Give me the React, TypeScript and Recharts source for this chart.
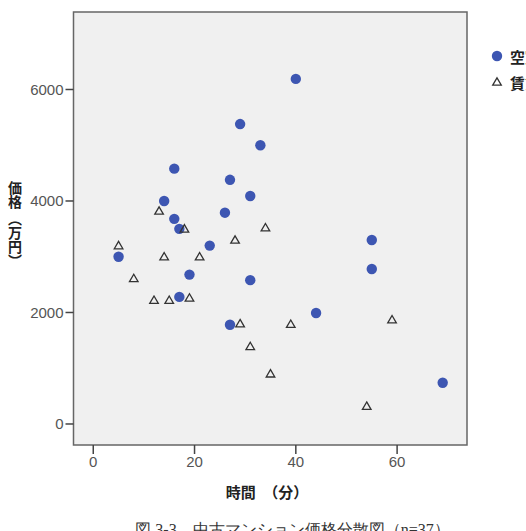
import { ScatterChart, Scatter, XAxis, YAxis, ReferenceArea } from "recharts";

// 空室 (blue circles)
const timeVacant = [5, 14, 16, 16, 17, 19, 17, 23, 26, 27, 29, 31, 33, 40, 31, 27, 44, 55, 55, 69];
const priceVacant = [3000, 4000, 4580, 3680, 3500, 2680, 2280, 3200, 3790, 4380, 5380, 4090, 5000, 6190, 2580, 1780, 1990, 3300, 2780, 740];

// 賃貸 (triangles)
const timeRented = [13, 18, 34, 28, 5, 14, 21, 8, 12, 15, 19, 29, 39, 59, 31, 35, 54];
const priceRented = [3820, 3500, 3520, 3300, 3200, 3000, 3000, 2610, 2220, 2220, 2260, 1800, 1790, 1870, 1390, 900, 320];

const xTicks = [0, 20, 40, 60];
const yTicks = [0, 2000, 4000, 6000];

const vacant = timeVacant.map((t, i) => ({ time: t, price: priceVacant[i] }));
const rented = timeRented.map((t, i) => ({ time: t, price: priceRented[i] }));

const X_MIN = -3.9;
const X_MAX = 73.8;
const Y_MIN = -377;
const Y_MAX = 7390;

const BLUE = "#3d56b2";
const CJK = "'Noto Sans CJK JP', sans-serif";

const Dot = (p: any) => <circle cx={p.cx} cy={p.cy} r={5.2} fill={BLUE} />;

const Tri = (p: any) => (
  <polygon
    points={`${p.cx},${p.cy - 4.2} ${p.cx + 4.3},${p.cy + 3.2} ${p.cx - 4.3},${p.cy + 3.2}`}
    fill="none"
    stroke="#333"
    strokeWidth={1.3}
  />
);

const LegendBox = () => (
  <div
    style={{
      position: "absolute",
      left: 490,
      top: 43,
      width: 80,
      fontFamily: CJK,
      fontWeight: "bold",
      fontSize: 15,
      color: "#222",
    }}
  >
    <div style={{ display: "flex", alignItems: "center", height: 26, whiteSpace: "nowrap" }}>
      <svg width={14} height={14} style={{ marginRight: 6 }}>
        <circle cx={7} cy={7} r={5.2} fill={BLUE} />
      </svg>
      空室
    </div>
    <div style={{ display: "flex", alignItems: "center", height: 26, whiteSpace: "nowrap" }}>
      <svg width={14} height={14} style={{ marginRight: 6 }}>
        <polygon points="7,2.8 11.3,10.2 2.7,10.2" fill="none" stroke="#333" strokeWidth={1.3} />
      </svg>
      賃貸
    </div>
  </div>
);

export default function App() {
  return (
    <div style={{ position: "fixed", left: 0, top: 0, width: 526, height: 531, overflow: "hidden", background: "#fff" }}>
      <ScatterChart width={526} height={531} margin={{ top: 12, right: 59, bottom: 46, left: 0 }}>
        <ReferenceArea
          x1={X_MIN}
          x2={X_MAX}
          y1={Y_MIN}
          y2={Y_MAX}
          fill="#f0f0f0"
          fillOpacity={1}
          stroke="#666"
          strokeWidth={1.5}
        />
        <XAxis
          type="number"
          dataKey="time"
          domain={[X_MIN, X_MAX]}
          ticks={xTicks}
          allowDataOverflow
          height={40}
          axisLine={false}
          tickLine={{ stroke: "#444", strokeWidth: 1.5 }}
          tickSize={9}
          tick={{ fill: "#555", fontSize: 15, fontFamily: "Liberation Sans, Arial, sans-serif" }}
        />
        <YAxis
          type="number"
          dataKey="price"
          domain={[Y_MIN, Y_MAX]}
          ticks={yTicks}
          allowDataOverflow
          width={73.5}
          axisLine={false}
          tickLine={{ stroke: "#444", strokeWidth: 1.5 }}
          tickSize={8}
          tick={{ fill: "#555", fontSize: 15, fontFamily: "Liberation Sans, Arial, sans-serif" }}
        />
        <Scatter name="空室" data={vacant} shape={Dot} isAnimationActive={false} />
        <Scatter name="賃貸" data={rented} shape={Tri} isAnimationActive={false} />
        <text
          x={15}
          y={181}
          style={{ writingMode: "vertical-rl" } as any}
          fontFamily={CJK}
          fontWeight="bold"
          fontSize={14}
          fill="#222"
        >
          価格 （万円）
        </text>
        <text x={267} y={498} textAnchor="middle" fontFamily={CJK} fontWeight="bold" fontSize={15} fill="#222">
          時間　（分）
        </text>
      </ScatterChart>
      <LegendBox />
      <div
        style={{
          position: "absolute",
          left: 0,
          width: 585,
          top: 520,
          textAlign: "center",
          fontFamily: "serif",
          fontSize: 16,
          color: "#333",
          whiteSpace: "nowrap",
        }}
      >
        図 3-3　中古マンション価格分散図（n=37）
      </div>
    </div>
  );
}
